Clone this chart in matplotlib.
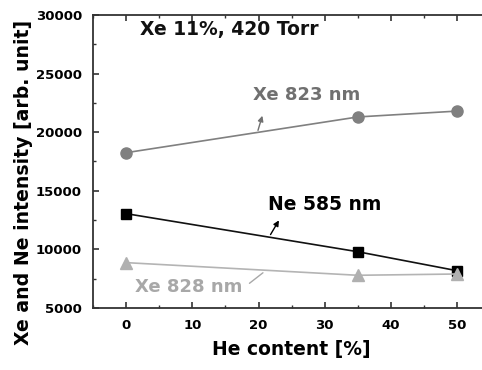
import matplotlib
matplotlib.use("Agg")
import matplotlib.pyplot as plt
from matplotlib.ticker import MultipleLocator

he = [0, 35, 50]
xe823 = [18250, 21300, 21800]
ne585 = [13050, 9800, 8180]
xe828 = [8870, 7790, 7900]

fig = plt.figure(figsize=(4.82, 3.70), dpi=100)
ax = fig.add_axes([0.193, 0.1676, 0.824, 0.7919])

ax.plot(he, xe823, color="#808080", lw=1.2, marker="o", ms=8, mfc="#808080", mec="#808080")
ax.plot(he, ne585, color="#111111", lw=1.2, marker="s", ms=7, mfc="#000000", mec="#000000")
ax.plot(he, xe828, color="#b4b4b4", lw=1.2, marker="^", ms=9, mfc="#b0b0b0", mec="#b0b0b0")

ax.set_xlim(-5, 55)
ax.set_ylim(5000, 30000)
ax.xaxis.set_major_locator(MultipleLocator(10))
ax.xaxis.set_minor_locator(MultipleLocator(5))
ax.yaxis.set_major_locator(MultipleLocator(5000))
ax.yaxis.set_minor_locator(MultipleLocator(2500))
ax.tick_params(which="both", direction="in", top=True, right=False, color="#333333")
ax.tick_params(which="major", length=4, width=1.2, labelsize=9.5, pad=8)
ax.tick_params(which="minor", length=2.5, width=1.0)
for lab in ax.get_xticklabels() + ax.get_yticklabels():
    lab.set_fontweight("bold")
for s in ax.spines.values():
    s.set_color("#333333")
    s.set_linewidth(1.3)

ax.set_xlabel("He content [%]", fontsize=13.5, fontweight="bold", labelpad=6)
ax.set_ylabel("Xe and Ne intensity [arb. unit]", fontsize=13.6, fontweight="bold")
ax.yaxis.set_label_coords(-0.152, 0.43)

ax.text(2.1, 28800, "Xe 11%, 420 Torr", fontsize=13.5, fontweight="bold", va="center", ha="left", color="#111111")
ax.text(19.1, 23170, "Xe 823 nm", fontsize=13, fontweight="bold", va="center", ha="left", color="#707070")
ax.text(21.5, 13870, "Ne 585 nm", fontsize=13.5, fontweight="bold", va="center", ha="left", color="#000000")
ax.text(1.4, 6790, "Xe 828 nm", fontsize=13, fontweight="bold", va="center", ha="left", color="#a8a8a8")

ax.annotate("", xy=(20.7, 21630), xytext=(19.8, 19930),
            arrowprops=dict(arrowstyle="-|>", color="#707070", lw=1.0, mutation_scale=8))
ax.annotate("", xy=(23.3, 12680), xytext=(21.6, 11060),
            arrowprops=dict(arrowstyle="-|>", color="#000000", lw=1.0, mutation_scale=8))
ax.annotate("", xy=(21.0, 8150), xytext=(18.3, 6960),
            arrowprops=dict(arrowstyle="-", color="#a8a8a8", lw=1.0))

fig.savefig("out.png", dpi=100)
